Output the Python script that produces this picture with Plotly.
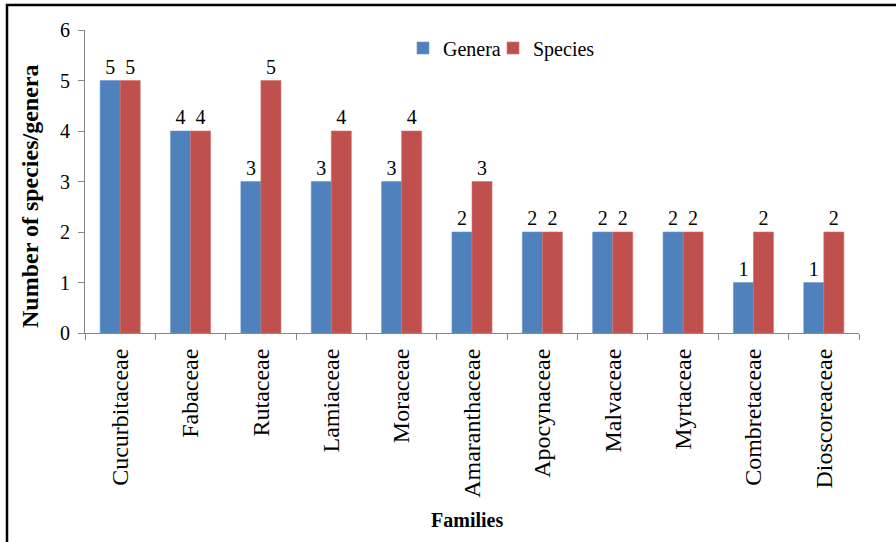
import plotly.graph_objects as go

families = ["Cucurbitaceae", "Fabaceae", "Rutaceae", "Lamiaceae", "Moraceae",
            "Amaranthaceae", "Apocynaceae", "Malvaceae", "Myrtaceae",
            "Combretaceae", "Dioscoreaceae"]
genera = [5, 4, 3, 3, 3, 2, 2, 2, 2, 1, 1]
species = [5, 4, 5, 4, 4, 3, 2, 2, 2, 2, 2]

FONT = "Liberation Serif"
W, H = 896, 542
L, R, T, B = 85, 37, 30, 209
pw, ph = W - L - R, H - T - B

def px_x(px):
    return (px - L) / pw

def px_y(py):
    return (H - B - py) / ph

fig = go.Figure()
fig.add_trace(go.Bar(name="Genera", x=families, y=genera, text=genera,
                     textposition="outside", cliponaxis=False, legend="legend",
                     marker=dict(color="#4F81BD", line=dict(color="#6F97CB", width=0.6)),
                     textfont=dict(family=FONT, size=20, color="black")))
fig.add_trace(go.Bar(name="Species", x=families, y=species, text=species,
                     textposition="outside", cliponaxis=False, legend="legend2",
                     marker=dict(color="#C0504D", line=dict(color="#D07370", width=0.6)),
                     textfont=dict(family=FONT, size=20, color="black")))

leg_common = dict(orientation="h", xanchor="left", yanchor="middle",
                  font=dict(family=FONT, size=20, color="black"),
                  bgcolor="rgba(0,0,0,0)", itemwidth=30)

fig.update_layout(
    width=W, height=H,
    margin=dict(l=L, r=R, t=T, b=B, autoexpand=False),
    paper_bgcolor="white", plot_bgcolor="white",
    barmode="group", bargap=0.43, bargroupgap=0,
    font=dict(family=FONT, color="black"),
    showlegend=True,
    legend=dict(x=px_x(403), y=px_y(48), **leg_common),
    legend2=dict(x=px_x(493), y=px_y(48), **leg_common),
    xaxis=dict(showline=True, linecolor="#868686", linewidth=1,
               ticks="outside", tickson="boundaries", ticklen=6, tickcolor="#868686",
               tickangle=-90, ticklabelstandoff=5,
               tickfont=dict(family=FONT, size=24, color="black"),
               showgrid=False, zeroline=False),
    yaxis=dict(range=[0, 6], dtick=1, showline=True, linecolor="#868686", linewidth=1,
               ticks="outside", ticklen=6, tickcolor="#868686", ticklabelstandoff=4,
               tickfont=dict(family=FONT, size=20, color="black"),
               showgrid=False, zeroline=False),
)

fig.add_annotation(text="<b>Number of species/genera</b>", textangle=-90,
                   xref="paper", yref="paper", x=px_x(30), y=px_y(196),
                   showarrow=False, font=dict(family=FONT, size=24, color="black"),
                   xanchor="center", yanchor="middle")
fig.add_annotation(text="<b>Families</b>",
                   xref="paper", yref="paper", x=px_x(467), y=px_y(520),
                   showarrow=False, font=dict(family=FONT, size=20, color="black"),
                   xanchor="center", yanchor="middle")

fig.add_shape(type="rect", xref="paper", yref="paper",
              x0=px_x(7), x1=px_x(905), y0=px_y(552), y1=px_y(5),
              line=dict(color="black", width=2.5), fillcolor="rgba(0,0,0,0)", layer="above")

fig.write_html("out.html", config={"displayModeBar": False},
               post_script="document.body.style.margin='0';document.body.style.overflow='hidden';")
